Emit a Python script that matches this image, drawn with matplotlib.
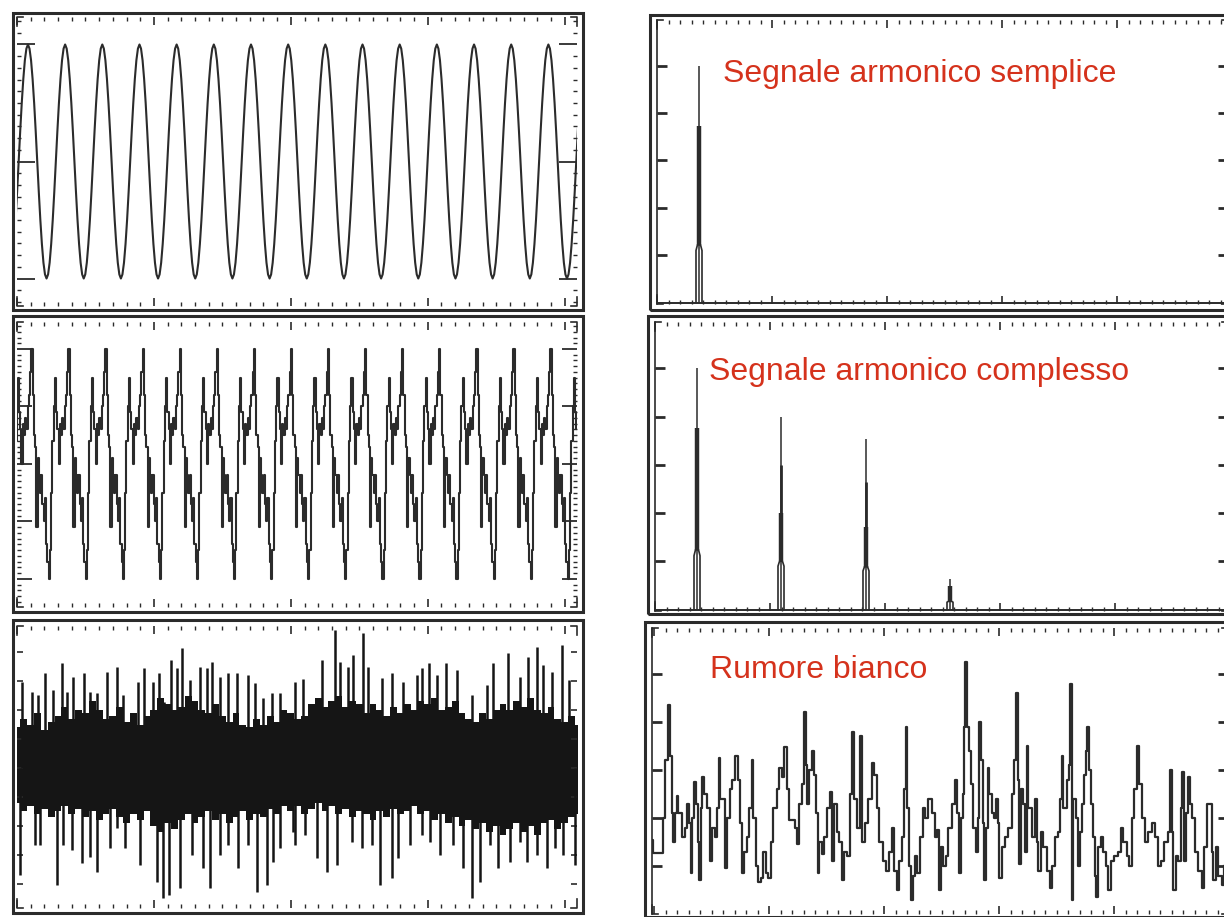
import numpy as np
import matplotlib
matplotlib.use("Agg")
import matplotlib.pyplot as plt
from matplotlib.patches import Rectangle
from matplotlib.ticker import MultipleLocator, FixedLocator, NullLocator

W, H = 1224, 917
INK = '#2b2b2b'
RED = '#d5321c'

# --- segnali nel tempo (divisioni orizzontali, divisioni verticali) ---
sine_period = 0.2715
sine_first_peak = 0.08
sine_cycle = [2.0, 1.93, 1.73, 1.41, 1.0, 0.52, 0.0, -0.52, -1.0, -1.41, -1.73, -1.93,
              -2.0, -1.93, -1.73, -1.41, -1.0, -0.52, 0.0, 0.52, 1.0, 1.41, 1.73, 1.93]

complex_period = 0.2708
complex_first_peak = 0.38
complex_cycle = [2.0, 1.2, 0.5, 0.3, -1.1, 0.1, -0.2, -0.5, -0.2, -0.7,
                 -1.0, -0.6, -1.4, -1.7, -2.0, -1.5, -0.5, 0.4, 1.0, 1.5,
                 0.9, 0.6, 0.0, 0.7, 0.5, 0.8, 0.6, 1.0, 1.2, 1.6]

# rumore bianco: fascia densa (inviluppo) + picchi isolati
noise_core_step = 0.05
noise_core_top = [1.4, 1.7, 1.5, 1.9, 1.3, 1.6, 1.8, 2.1, 1.7, 2.0,
                  1.9, 2.3, 2.0, 1.7, 1.8, 2.1, 1.6, 1.9, 1.5, 1.8,
                  2.0, 2.4, 2.2, 2.0, 2.1, 2.5, 2.3, 2.0, 1.9, 2.2,
                  1.8, 1.6, 1.9, 1.5, 1.4, 1.7, 1.5, 1.8, 1.6, 2.0,
                  1.9, 1.7, 1.8, 2.2, 2.4, 2.1, 2.3, 2.5, 2.1, 2.3,
                  2.2, 1.9, 2.2, 2.0, 1.8, 2.1, 1.9, 2.2, 2.0, 2.3,
                  2.2, 2.4, 2.0, 2.1, 2.3, 1.9, 1.7, 1.6, 1.9, 1.7,
                  2.0, 2.2, 2.0, 2.3, 2.1, 2.4, 2.0, 1.9, 2.1, 1.7,
                  1.6, 1.8, 1.5]
noise_core_bot = [-1.2, -1.5, -1.3, -1.6, -1.4, -1.7, -1.5, -1.3, -1.6, -1.4,
                  -1.7, -1.5, -1.8, -1.6, -1.4, -1.7, -1.9, -1.6, -1.8, -1.5,
                  -2.0, -2.2, -1.9, -2.1, -1.8, -1.6, -1.9, -1.7, -1.5, -1.8,
                  -1.6, -1.9, -1.7, -1.5, -1.8, -1.6, -1.7, -1.4, -1.6, -1.3,
                  -1.5, -1.3, -1.6, -1.4, -1.2, -1.5, -1.3, -1.6, -1.4, -1.7,
                  -1.5, -1.6, -1.8, -1.5, -1.7, -1.4, -1.6, -1.5, -1.3, -1.6,
                  -1.5, -1.8, -1.6, -1.9, -1.7, -2.0, -1.8, -2.1, -1.9, -2.2,
                  -2.0, -2.3, -2.1, -1.9, -2.2, -2.0, -2.3, -1.9, -1.8, -2.1,
                  -1.9, -1.7, -1.6]
noise_up_t = [0.036, 0.109, 0.153, 0.204, 0.263, 0.328, 0.365, 0.409, 0.489, 0.533, 0.584,
              0.657, 0.730, 0.774, 0.883, 0.927, 0.993, 1.036, 1.073, 1.124, 1.168, 1.204,
              1.263, 1.336, 1.387, 1.423, 1.482, 1.540, 1.606, 1.686, 1.737, 1.796, 1.861,
              1.920, 2.029, 2.088, 2.226, 2.321, 2.358, 2.416, 2.453, 2.526, 2.562, 2.664,
              2.737, 2.818, 2.920, 2.956, 3.007, 3.066, 3.131, 3.212, 3.321, 3.431, 3.474,
              3.584, 3.672, 3.730, 3.796, 3.839, 3.905, 3.978, 4.029]
noise_up_a = [2.97, 2.62, 2.52, 3.28, 2.69, 3.62, 2.62, 3.14, 3.28, 2.62, 2.59, 3.31, 3.48,
              2.52, 2.97, 3.45, 2.97, 3.28, 2.28, 3.72, 3.45, 4.14, 3.03, 3.48, 3.45, 3.66,
              3.14, 3.28, 3.28, 3.21, 2.93, 2.41, 2.59, 2.59, 2.97, 3.07, 3.72, 4.76, 3.66,
              3.48, 3.90, 4.66, 3.48, 3.10, 3.28, 2.97, 3.21, 3.45, 3.62, 3.21, 3.62, 3.38,
              2.52, 2.86, 3.62, 3.97, 3.14, 3.83, 4.17, 3.55, 3.31, 4.24, 3.03]
noise_down_t = [0.022, 0.131, 0.168, 0.292, 0.336, 0.401, 0.474, 0.533, 0.584, 0.679, 0.730,
                0.788, 0.898, 1.022, 1.066, 1.109, 1.190, 1.277, 1.358, 1.409, 1.482, 1.540,
                1.613, 1.686, 1.752, 1.825, 1.869, 1.920, 2.015, 2.029, 2.102, 2.190, 2.263,
                2.336, 2.445, 2.518, 2.591, 2.650, 2.737, 2.781, 2.869, 2.956, 3.015, 3.088,
                3.182, 3.255, 3.321, 3.380, 3.453, 3.511, 3.599, 3.672, 3.723, 3.796, 3.869,
                3.927, 3.985, 4.073]
noise_down_a = [-3.69, -2.66, -2.66, -4.03, -2.66, -2.83, -3.28, -3.07, -3.59, -2.76, -2.07,
                -2.76, -3.34, -3.93, -4.48, -4.38, -4.14, -3.00, -3.45, -4.14, -3.00, -2.66,
                -3.45, -2.66, -4.28, -4.03, -3.24, -2.76, -2.21, -2.66, -2.31, -3.10, -3.59,
                -3.34, -2.55, -2.76, -2.66, -4.03, -3.79, -3.10, -2.66, -2.31, -2.55, -3.00,
                -2.66, -3.45, -4.48, -3.93, -2.66, -3.45, -3.24, -2.55, -3.24, -3.00, -3.45,
                -2.76, -3.00, -3.34]

# --- spettri (indice di bin, ampiezza) ---
simple_bins = [42]
simple_tip = [5.0]
simple_mid = [3.73]
simple_core = [3.73]
simple_base = [1.22]

complex_bins = [42, 126, 211, 295]
complex_tip = [5.0, 4.0, 3.54, 0.64]
complex_mid = [3.77, 3.0, 2.65, 0.48]
complex_core = [3.77, 2.0, 1.72, 0.48]
complex_base = [1.24, 1.0, 0.89, 0.17]

noise_spec_bins = [-2, -1, 8, 9, 11, 14, 16, 18, 19, 21, 23, 24, 28, 31, 33, 35, 37, 38, 40, 42,
                   44, 45, 47, 48, 50, 53, 56, 58, 61, 63, 65, 66, 69, 71, 73, 76, 78, 81, 84,
                   86, 88, 90, 93, 95, 98, 99, 102, 104, 107, 109, 112, 114, 117, 119, 123,
                   125, 128, 130, 133, 135, 139, 141, 143, 145, 148, 150, 152, 153, 155, 158,
                   160, 162, 164, 165, 168, 170, 173, 176, 178, 180, 183, 185, 188, 190, 193,
                   196, 198, 200, 203, 206, 208, 211, 214, 218, 220, 223, 225, 229, 232, 235,
                   238, 240, 243, 245, 248, 250, 252, 253, 255, 257, 259, 261, 263, 266, 269,
                   271, 274, 278, 281, 283, 285, 287, 289, 292, 294, 298, 301, 303, 305, 307,
                   309, 310, 311, 313, 315, 317, 319, 322, 324, 325, 327, 329, 330, 332, 334,
                   335, 338, 340, 342, 344, 345, 348, 351, 354, 358, 360, 362, 364, 365, 367,
                   369, 371, 373, 374, 378, 381, 383, 384, 387, 389, 393, 396, 398, 401, 404,
                   406, 408, 409, 413, 415, 416, 418, 419, 422, 424, 426, 428, 430, 432, 433,
                   435, 437, 439, 441, 442, 444, 447, 449, 452, 454, 457, 460, 464, 467, 469,
                   473, 475, 478, 480, 483, 485, 488, 491, 494, 498, 501, 504, 507, 510, 514,
                   516, 518, 519, 522, 524, 527, 528, 530, 532, 534, 536, 538, 541, 544, 548,
                   550, 553, 555, 558, 559, 562, 564, 568, 570]
noise_spec_vals = [1.54, 1.27, 1.27, 2.0, 3.2, 4.35, 3.3, 2.1, 1.5, 2.1, 2.45, 2.1, 1.6, 1.8,
                   2.3, 1.9, 0.85, 2.0, 2.75, 2.3, 1.5, 0.7, 2.2, 2.85, 2.5, 2.2, 1.1, 1.8,
                   1.6, 2.2, 3.25, 2.4, 2.4, 0.95, 2.0, 2.6, 2.8, 3.3, 2.8, 1.9, 0.85, 1.3,
                   1.6, 2.2, 3.2, 2.0, 1.0, 0.67, 0.75, 1.3, 0.85, 0.75, 1.5, 2.2, 2.6, 3.05,
                   2.85, 3.48, 2.6, 1.95, 1.95, 1.8, 1.45, 2.3, 2.7, 4.2, 3.1, 2.3, 3.0, 3.4,
                   2.9, 2.1, 0.85, 1.5, 1.25, 1.6, 2.2, 2.55, 1.1, 2.3, 1.7, 1.5, 0.7, 1.3,
                   1.2, 2.5, 3.8, 2.4, 1.8, 3.7, 1.5, 1.9, 2.4, 3.15, 2.9, 2.2, 1.5, 1.1, 0.9,
                   1.3, 1.8, 0.9, 0.5, 1.1, 1.6, 2.6, 3.9, 2.2, 1.0, 0.3, 0.8, 1.2, 0.85, 1.6,
                   2.2, 2.0, 2.4, 2.1, 1.6, 1.75, 0.5, 1.4, 1.0, 1.2, 1.8, 2.3, 2.8, 2.1, 0.85,
                   2.0, 2.5, 3.9, 5.25, 3.9, 3.4, 2.7, 1.8, 1.3, 2.0, 4.0, 3.2, 1.9, 0.7, 1.8,
                   3.05, 2.5, 2.1, 2.0, 2.4, 1.9, 0.75, 1.4, 1.6, 1.8, 2.5, 3.2, 4.6, 2.8,
                   1.05, 2.6, 2.3, 1.3, 3.5, 2.2, 1.6, 2.4, 1.5, 0.9, 1.7, 1.4, 0.9, 0.55, 1.0,
                   1.6, 1.7, 2.4, 3.3, 2.2, 2.8, 3.1, 4.8, 0.3, 2.4, 2.0, 1.0, 1.7, 2.3, 2.9,
                   3.4, 3.9, 3.0, 2.3, 1.6, 0.8, 0.35, 1.4, 1.6, 1.3, 1.0, 0.5, 1.1, 1.2, 1.3,
                   1.8, 1.5, 1.2, 1.0, 2.0, 2.6, 3.5, 2.7, 2.0, 1.5, 1.7, 1.9, 1.6, 1.0, 1.1,
                   1.5, 1.7, 3.0, 1.7, 0.5, 1.2, 1.1, 2.2, 2.95, 1.1, 2.1, 2.85, 2.3, 2.0, 1.3,
                   0.9, 0.55, 1.4, 2.3, 2.3, 1.3, 0.7, 1.4, 0.8, 0.6, 1.0]

titles = ["Segnale armonico semplice", "Segnale armonico complesso", "Rumore bianco"]

fig = plt.figure(figsize=(W / 100, H / 100), dpi=100)
fig.patch.set_facecolor('white')


def panel(frame, inner, xlim, ylim):
    x0, y0, x1, y1 = frame
    fig.add_artist(Rectangle((x0 / W, 1 - y1 / H), (x1 - x0) / W, (y1 - y0) / H,
                             transform=fig.transFigure, fill=False, lw=2.2, ec=INK))
    a0, b0, a1, b1 = inner
    ax = fig.add_axes([a0 / W, 1 - b1 / H, (a1 - a0) / W, (b1 - b0) / H])
    ax.patch.set_alpha(0)
    for s in ax.spines.values():
        s.set_visible(False)
    ax.set_xlim(*xlim)
    ax.set_ylim(*ylim)
    ax.tick_params(which='both', direction='in', top=True, bottom=True, left=True,
                   right=True, labelbottom=False, labelleft=False, color=INK)
    ax.tick_params(which='major', length=6, width=1.2)
    ax.tick_params(which='minor', length=3, width=1.0)
    # angoli del reticolo
    dx, dy = 6 / (a1 - a0), 9 / (b1 - b0)
    kw = dict(transform=ax.transAxes, color=INK, lw=1.2, clip_on=False)
    ax.plot([dx, 0, 0], [1, 1, 1 - dy], **kw)
    ax.plot([1 - dx, 1, 1], [1, 1, 1 - dy], **kw)
    ax.plot([dx, 0, 0], [0, 0, dy], **kw)
    ax.plot([1 - dx, 1, 1], [0, 0, dy], **kw)
    return ax


def time_axes(ax):
    ax.xaxis.set_major_locator(MultipleLocator(1))
    ax.xaxis.set_minor_locator(MultipleLocator(0.1))


def spec_axes(ax):
    ax.xaxis.set_major_locator(MultipleLocator(115))
    ax.xaxis.set_minor_locator(MultipleLocator(11.5))
    ax.yaxis.set_major_locator(FixedLocator([1, 2, 3, 4, 5]))
    ax.yaxis.set_minor_locator(NullLocator())
    ax.tick_params(axis='y', which='major', length=7, width=2.0)
    ax.spines['left'].set_visible(True)
    ax.spines['left'].set_linewidth(1.2)
    ax.spines['left'].set_color(INK)


def draw_peaks(ax, bins, tip, mid, core, base):
    ax.axhline(0, color=INK, lw=1.4)
    ax.vlines(bins, 0, tip, color=INK, lw=1.1)
    ax.vlines(bins, base, mid, color=INK, lw=2.0)
    ax.vlines(bins, base, core, color=INK, lw=3.2)
    for b, h in zip(bins, base):
        ax.plot([b - 3, b - 3, b - 1.5, b + 1.5, b + 3, b + 3],
                [0, h * 0.9, h, h, h * 0.9, 0], color=INK, lw=1.2)


# --- colonna sinistra: segnali nel tempo ---
ax1 = panel((13, 13, 583, 310), (17, 17, 577, 306), (0, 4.09), (-2.47, 2.47))
time_axes(ax1)
ax1.yaxis.set_major_locator(FixedLocator([-2, 0, 2]))
ax1.yaxis.set_minor_locator(MultipleLocator(0.2))
ax1.tick_params(axis='y', which='major', length=13, width=1.3)
sine_y = np.tile(sine_cycle, 17)
sine_t = sine_first_peak - sine_period + np.arange(len(sine_y)) * sine_period / len(sine_cycle)
ax1.plot(sine_t, sine_y, color=INK, lw=1.5)

ax2 = panel((13, 316, 583, 612), (17, 322, 577, 607), (0, 4.09), (-2.49, 2.47))
time_axes(ax2)
ax2.yaxis.set_major_locator(FixedLocator([-2, -1, 0, 1, 2]))
ax2.yaxis.set_minor_locator(MultipleLocator(0.1))
ax2.tick_params(axis='y', which='major', length=11, width=1.3)
cx_y = np.tile(complex_cycle, 17)
cx_t = complex_first_peak - 2 * complex_period + np.arange(len(cx_y)) * complex_period / len(complex_cycle)
ax2.plot(cx_t, cx_y, color=INK, lw=1.5, drawstyle='steps-mid')

ax3 = panel((13, 620, 583, 913), (17, 626, 577, 908), (0, 4.09), (-4.83, 4.9))
time_axes(ax3)
ax3.yaxis.set_major_locator(MultipleLocator(1))
ax3.yaxis.set_minor_locator(NullLocator())
ax3.tick_params(axis='y', which='major', length=4, width=1.2)
core_t = np.arange(len(noise_core_top)) * noise_core_step
ax3.fill_between(core_t, noise_core_bot, noise_core_top, step='mid', color='#151515', lw=0)
ax3.vlines(noise_up_t, 0, noise_up_a, color='#151515', lw=1.8)
ax3.vlines(noise_down_t, 0, noise_down_a, color='#151515', lw=1.8)

# --- colonna destra: spettri ---
ax4 = panel((650, 15, 1234, 310), (657, 20, 1228, 304), (0, 571), (-0.03, 5.96))
spec_axes(ax4)
draw_peaks(ax4, simple_bins, simple_tip, simple_mid, simple_core, simple_base)

ax5 = panel((648, 316, 1234, 614), (655, 322, 1228, 611), (0, 573), (-0.03, 5.96))
spec_axes(ax5)
draw_peaks(ax5, complex_bins, complex_tip, complex_mid, complex_core, complex_base)

ax6 = panel((645, 622, 1234, 917), (652, 628, 1228, 914), (-2, 574), (0, 5.96))
spec_axes(ax6)
ax6.plot(noise_spec_bins, noise_spec_vals, color=INK, lw=1.6, drawstyle='steps-post')

# --- etichette ---
font = dict(family=['Liberation Sans', 'DejaVu Sans'], color=RED, fontsize=23)
fig.text(723 / W, 1 - 82 / H, titles[0], va='baseline', **font)
fig.text(709 / W, 1 - 380 / H, titles[1], va='baseline', **font)
fig.text(710 / W, 1 - 678 / H, titles[2], va='baseline', **font)

fig.savefig('out.png', dpi=100, facecolor='white')
